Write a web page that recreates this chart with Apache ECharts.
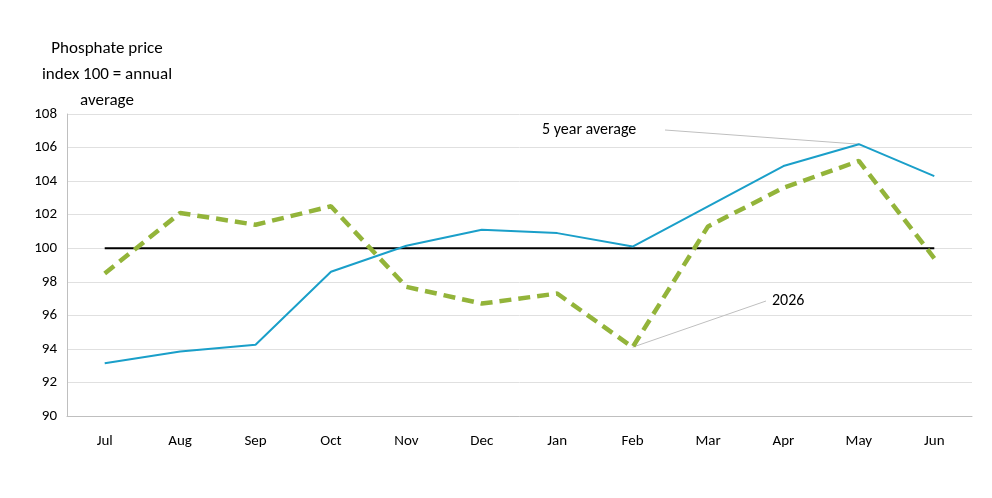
<!DOCTYPE html><html><head><meta charset="utf-8"><script src="https://cdn.jsdelivr.net/npm/echarts@6/dist/echarts.min.js"></script>
<style>html,body{margin:0;background:#fff}#c{width:992px;height:498px}</style></head><body><div id="c"></div><script>
const months=['Jul','Aug','Sep','Oct','Nov','Dec','Jan','Feb','Mar','Apr','May','Jun'];
const fiveYear=[93.15,93.85,94.25,98.6,100.15,101.1,100.9,100.1,102.5,104.9,106.2,104.3];
const y2026=[98.5,102.1,101.4,102.5,97.7,96.7,97.3,94.1,101.3,103.6,105.2,99.4];
const baseline=months.map(()=>100);
const f='Calibri, Carlito, "Open Sans", sans-serif';
const chart=echarts.init(document.getElementById('c'));
chart.setOption({animation:false,
grid:{left:67,right:20,top:114,bottom:82},
xAxis:{type:'category',data:months,axisLine:{lineStyle:{color:'#bfbfbf'}},axisTick:{show:false},axisLabel:{color:'#000',fontSize:15,fontFamily:f,margin:18}},
yAxis:{type:'value',min:90,max:108,interval:2,axisLine:{show:true,lineStyle:{color:'#bfbfbf'}},splitLine:{lineStyle:{color:'#e0e0e0'}},axisLabel:{color:'#000',fontSize:15,fontFamily:f,margin:10}},
series:[
{type:'line',data:baseline,symbol:'none',lineStyle:{color:'#000',width:2},z:1},
{type:'line',data:fiveYear,symbol:'none',lineStyle:{color:'#1a9fc9',width:2},z:2},
{type:'line',data:y2026,symbol:'none',lineStyle:{color:'#93b43a',width:4.5,type:[12,7]},z:3}
]});
const p1=chart.convertToPixel({xAxisIndex:0,yAxisIndex:0},[10,fiveYear[10]]);
const p2=chart.convertToPixel({xAxisIndex:0,yAxisIndex:0},[7,y2026[7]]);
chart.setOption({graphic:[
{type:'text',x:107,y:36,style:{text:'Phosphate price\nindex 100 = annual\naverage',fill:'#000',font:'17px '+f,lineHeight:26,align:'center'}},
{type:'text',x:542,y:122,style:{text:'5 year average',fill:'#000',font:'16px '+f}},
{type:'line',shape:{x1:665,y1:130,x2:p1[0],y2:p1[1]},style:{stroke:'#bfbfbf',lineWidth:1}},
{type:'text',x:772,y:293,style:{text:'2026',fill:'#000',font:'16px '+f}},
{type:'line',shape:{x1:766,y1:301,x2:p2[0],y2:p2[1]},style:{stroke:'#bfbfbf',lineWidth:1}}
]});
</script></body></html>
